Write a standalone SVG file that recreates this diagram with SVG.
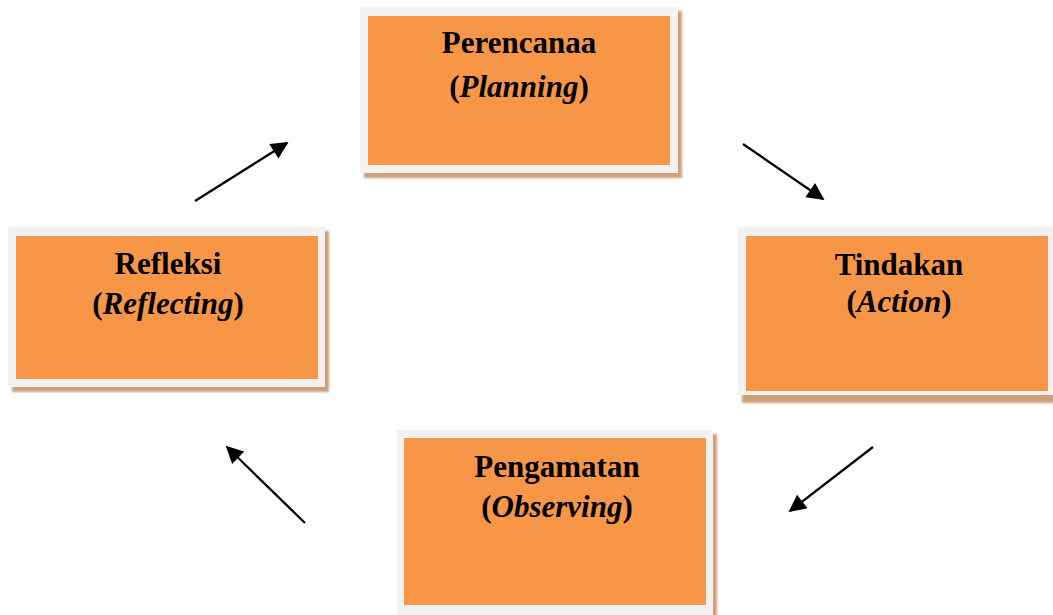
<svg xmlns="http://www.w3.org/2000/svg" width="1053" height="615" viewBox="0 0 1053 615">
<defs>
<filter id="blur" x="-5%" y="-5%" width="110%" height="110%"><feGaussianBlur stdDeviation="1.2"/></filter>
<marker id="ah" viewBox="0 0 10 10" refX="9" refY="5" markerWidth="8" markerHeight="7.5" markerUnits="strokeWidth" orient="auto"><path d="M0,0 L10,5 L0,10 Z" fill="#000"/></marker>
</defs>
<style>
.shadow{fill:#cf9f78;filter:url(#blur)}
.frame{fill:#f2f2f2}
.fill{fill:#f79646}
text{font-family:"Liberation Serif","Times New Roman",serif;font-size:31px;font-weight:bold;fill:#000;text-anchor:middle}
.it{font-style:italic}
.conn line{stroke:#000;stroke-width:2.3;marker-end:url(#ah)}
</style>
<rect width="1053" height="615" fill="#fff"/>
<g id="planning">
<rect class="shadow" x="364" y="11" width="318" height="167"/>
<rect class="frame" x="360" y="7" width="318" height="166"/>
<rect class="fill" x="368" y="16" width="302" height="149"/>
<text x="519" y="53">Perencanaa</text>
<text x="519" y="97">(<tspan class="it">Planning</tspan>)</text>
</g>
<g id="action">
<rect class="shadow" x="742" y="231" width="315" height="172"/>
<rect class="frame" x="738" y="227" width="315" height="168"/>
<rect class="fill" x="746" y="236" width="302" height="155"/>
<text x="899" y="275">Tindakan</text>
<text x="899" y="312">(<tspan class="it">Action</tspan>)</text>
</g>
<g id="reflecting">
<rect class="shadow" x="12" y="231" width="317" height="161"/>
<rect class="frame" x="8" y="227" width="317" height="160"/>
<rect class="fill" x="16" y="236" width="302" height="143"/>
<text x="168" y="274">Refleksi</text>
<text x="168" y="314">(<tspan class="it">Reflecting</tspan>)</text>
</g>
<g id="observing">
<rect class="shadow" x="401" y="434" width="316" height="186"/>
<rect class="frame" x="397" y="430" width="316" height="185"/>
<rect class="fill" x="404" y="438" width="302" height="167"/>
<text x="557" y="477">Pengamatan</text>
<text x="557" y="517">(<tspan class="it">Observing</tspan>)</text>
</g>
<g id="connectors" class="conn">
<line x1="195" y1="201" x2="287" y2="143"/>
<line x1="743" y1="144" x2="823" y2="199"/>
<line x1="873" y1="447" x2="790" y2="511"/>
<line x1="305" y1="523" x2="227" y2="447"/>
</g>
</svg>
